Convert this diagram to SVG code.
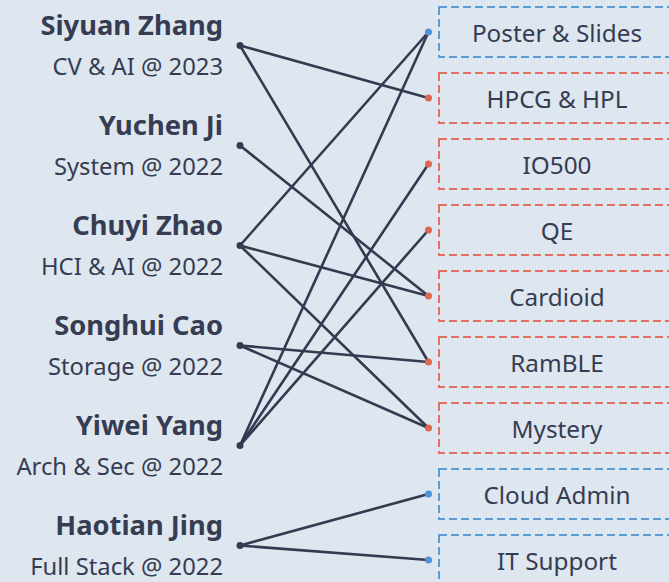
<svg xmlns="http://www.w3.org/2000/svg" width="669" height="582" viewBox="0 0 669 582">
<style>
.name{font-family:"Noto Sans","Open Sans",sans-serif;font-weight:700;font-size:27.3px;fill:#363c52;text-anchor:end}
.sub{font-family:"Noto Sans","Open Sans",sans-serif;font-size:23.8px;fill:#363c52;text-anchor:end}
.lbl{font-family:"Noto Sans","Open Sans",sans-serif;font-size:24.3px;fill:#363c52;text-anchor:middle}
.box{fill:none;stroke-width:2;stroke-dasharray:8 4}
.blue .box{stroke:#5b9bd8}
.red .box{stroke:#e07060}
.blue .pin{fill:#4f93d6}
.red .pin{fill:#e0664f}
.ldot{fill:#343a4f}
#connectors line{stroke:#343a4f;stroke-width:2.6;stroke-linecap:round}
</style>
<rect width="669" height="582" fill="#dee6f0"/>
<g id="connectors">
<line x1="240" y1="45.5" x2="428.5" y2="98"/>
<line x1="240" y1="45.5" x2="428.5" y2="362"/>
<line x1="240" y1="145.5" x2="428.5" y2="296"/>
<line x1="240" y1="245.5" x2="428.5" y2="32"/>
<line x1="240" y1="245.5" x2="428.5" y2="296"/>
<line x1="240" y1="245.5" x2="428.5" y2="428"/>
<line x1="240" y1="345.5" x2="428.5" y2="362"/>
<line x1="240" y1="345.5" x2="428.5" y2="428"/>
<line x1="240" y1="445.5" x2="428.5" y2="32"/>
<line x1="240" y1="445.5" x2="428.5" y2="164"/>
<line x1="240" y1="445.5" x2="428.5" y2="230"/>
<line x1="240" y1="545.5" x2="428.5" y2="494"/>
<line x1="240" y1="545.5" x2="428.5" y2="560"/>
</g>
<g id="person-siyuan"><text class="name" x="223" y="35">Siyuan Zhang</text><text class="sub" x="223" y="75">CV &amp; AI @ 2023</text><circle class="ldot" cx="240" cy="45.5" r="3.5"/></g>
<g id="person-yuchen"><text class="name" x="223" y="135">Yuchen Ji</text><text class="sub" x="223" y="175">System @ 2022</text><circle class="ldot" cx="240" cy="145.5" r="3.5"/></g>
<g id="person-chuyi"><text class="name" x="223" y="235">Chuyi Zhao</text><text class="sub" x="223" y="275">HCI &amp; AI @ 2022</text><circle class="ldot" cx="240" cy="245.5" r="3.5"/></g>
<g id="person-songhui"><text class="name" x="223" y="335">Songhui Cao</text><text class="sub" x="223" y="375">Storage @ 2022</text><circle class="ldot" cx="240" cy="345.5" r="3.5"/></g>
<g id="person-yiwei"><text class="name" x="223" y="435">Yiwei Yang</text><text class="sub" x="223" y="475">Arch &amp; Sec @ 2022</text><circle class="ldot" cx="240" cy="445.5" r="3.5"/></g>
<g id="person-haotian"><text class="name" x="223" y="535">Haotian Jing</text><text class="sub" x="223" y="575">Full Stack @ 2022</text><circle class="ldot" cx="240" cy="545.5" r="3.5"/></g>
<g id="proj-poster" class="blue"><rect class="box" x="439" y="7" width="236" height="50"/><text class="lbl" x="557" y="41.5">Poster &amp; Slides</text><circle class="pin" cx="428.5" cy="32" r="3.5"/></g>
<g id="proj-hpcg" class="red"><rect class="box" x="439" y="73" width="236" height="50"/><text class="lbl" x="557" y="107.5">HPCG &amp; HPL</text><circle class="pin" cx="428.5" cy="98" r="3.5"/></g>
<g id="proj-io500" class="red"><rect class="box" x="439" y="139" width="236" height="50"/><text class="lbl" x="557" y="173.5">IO500</text><circle class="pin" cx="428.5" cy="164" r="3.5"/></g>
<g id="proj-qe" class="red"><rect class="box" x="439" y="205" width="236" height="50"/><text class="lbl" x="557" y="239.5">QE</text><circle class="pin" cx="428.5" cy="230" r="3.5"/></g>
<g id="proj-cardioid" class="red"><rect class="box" x="439" y="271" width="236" height="50"/><text class="lbl" x="557" y="305.5">Cardioid</text><circle class="pin" cx="428.5" cy="296" r="3.5"/></g>
<g id="proj-ramble" class="red"><rect class="box" x="439" y="337" width="236" height="50"/><text class="lbl" x="557" y="371.5">RamBLE</text><circle class="pin" cx="428.5" cy="362" r="3.5"/></g>
<g id="proj-mystery" class="red"><rect class="box" x="439" y="403" width="236" height="50"/><text class="lbl" x="557" y="437.5">Mystery</text><circle class="pin" cx="428.5" cy="428" r="3.5"/></g>
<g id="proj-cloud" class="blue"><rect class="box" x="439" y="469" width="236" height="50"/><text class="lbl" x="557" y="503.5">Cloud Admin</text><circle class="pin" cx="428.5" cy="494" r="3.5"/></g>
<g id="proj-it" class="blue"><rect class="box" x="439" y="535" width="236" height="50"/><text class="lbl" x="557" y="569.5">IT Support</text><circle class="pin" cx="428.5" cy="560" r="3.5"/></g>
</svg>
